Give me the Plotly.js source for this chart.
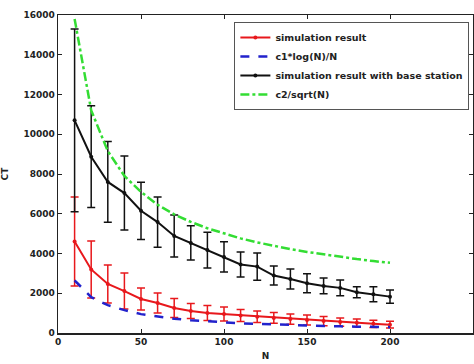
<!DOCTYPE html>
<html>
<head>
<meta charset="utf-8">
<script src="https://cdn.plot.ly/plotly-3.0.1.min.js"></script>
<style>html,body{margin:0;padding:0;background:#fff;}#chart{width:474px;height:364px;}</style>
</head>
<body>
<div id="chart"></div>
<script>
const N = [10,20,30,40,50,60,70,80,90,100,110,120,130,140,150,160,170,180,190,200];
const simResult = [4600,3200,2465,2110,1710,1510,1260,1110,1010,955,880,820,760,700,650,600,550,510,460,420];
const simErr = [2240,1435,955,905,555,500,475,380,375,350,300,290,270,260,250,230,210,190,180,170];
const logCurve = [2650,1800,1400,1150,950,820,720,640,580,530,490,455,425,400,375,355,335,320,305,295];
const baseResult = [10700,8870,7600,7040,6150,5580,4880,4530,4170,3830,3450,3340,2890,2720,2500,2370,2270,2050,1950,1830];
const baseErr = [4600,2560,2030,1860,1440,1260,1060,860,900,760,630,680,480,500,480,400,400,280,380,330];
const sqrtCurve = [15800,11200,9150,7900,7100,6450,5970,5590,5270,5000,4760,4560,4380,4220,4080,3950,3830,3720,3620,3530];

const traces = [
  {x:N, y:simResult, name:'simulation result', type:'scatter', mode:'lines+markers',
   line:{color:'#e8181c', width:2}, marker:{color:'#e8181c', size:4},
   error_y:{type:'data', array:simErr, visible:true, color:'#e8181c', thickness:1.5, width:4}},
  {x:N, y:logCurve, name:'c1*log(N)/N', type:'scatter', mode:'lines',
   line:{color:'#2222cc', width:2.5, dash:'dash'}},
  {x:N, y:baseResult, name:'simulation result with base station', type:'scatter', mode:'lines+markers',
   line:{color:'#111111', width:2}, marker:{color:'#111111', size:4, symbol:'circle'},
   error_y:{type:'data', array:baseErr, visible:true, color:'#111111', thickness:1.5, width:4}},
  {x:N, y:sqrtCurve, name:'c2/sqrt(N)', type:'scatter', mode:'lines',
   line:{color:'#33dd33', width:2.5, dash:'dashdot'}}
];

const fnt = 'DejaVu Sans, Verdana, sans-serif';
const axisCommon = {showline:true, linecolor:'#222', linewidth:1.5, mirror:'ticks', ticks:'inside',
  ticklen:4, tickcolor:'#222', showgrid:false, zeroline:false, tickformat:'d', separatethousands:false,
  automargin:false,
  tickfont:{family:fnt, size:9, color:'#222', weight:'bold'}};

const layout = {
  width:474, height:364,
  margin:{l:58, r:1, t:15, b:31, autoexpand:false},
  paper_bgcolor:'#fff', plot_bgcolor:'#fff',
  showlegend:true,
  legend:{x:0.425, y:0.978, xanchor:'left', yanchor:'top', bgcolor:'#fff', bordercolor:'#555', borderwidth:1,
    font:{family:fnt, size:9.5, color:'#222', weight:'bold'},
    tracegroupgap:0, itemwidth:30},
  xaxis:Object.assign({}, axisCommon, {range:[0,250], dtick:50, tick0:0,
    title:{text:'N', standoff:6, font:{family:fnt, size:9, color:'#222', weight:'bold'}}}),
  yaxis:Object.assign({}, axisCommon, {range:[0,16000], dtick:2000, tick0:0,
    title:{text:'CT', standoff:13, font:{family:fnt, size:9, color:'#222', weight:'bold'}}})
};

Plotly.newPlot('chart', traces, layout, {displayModeBar:false, staticPlot:true});
</script>
</body>
</html>
